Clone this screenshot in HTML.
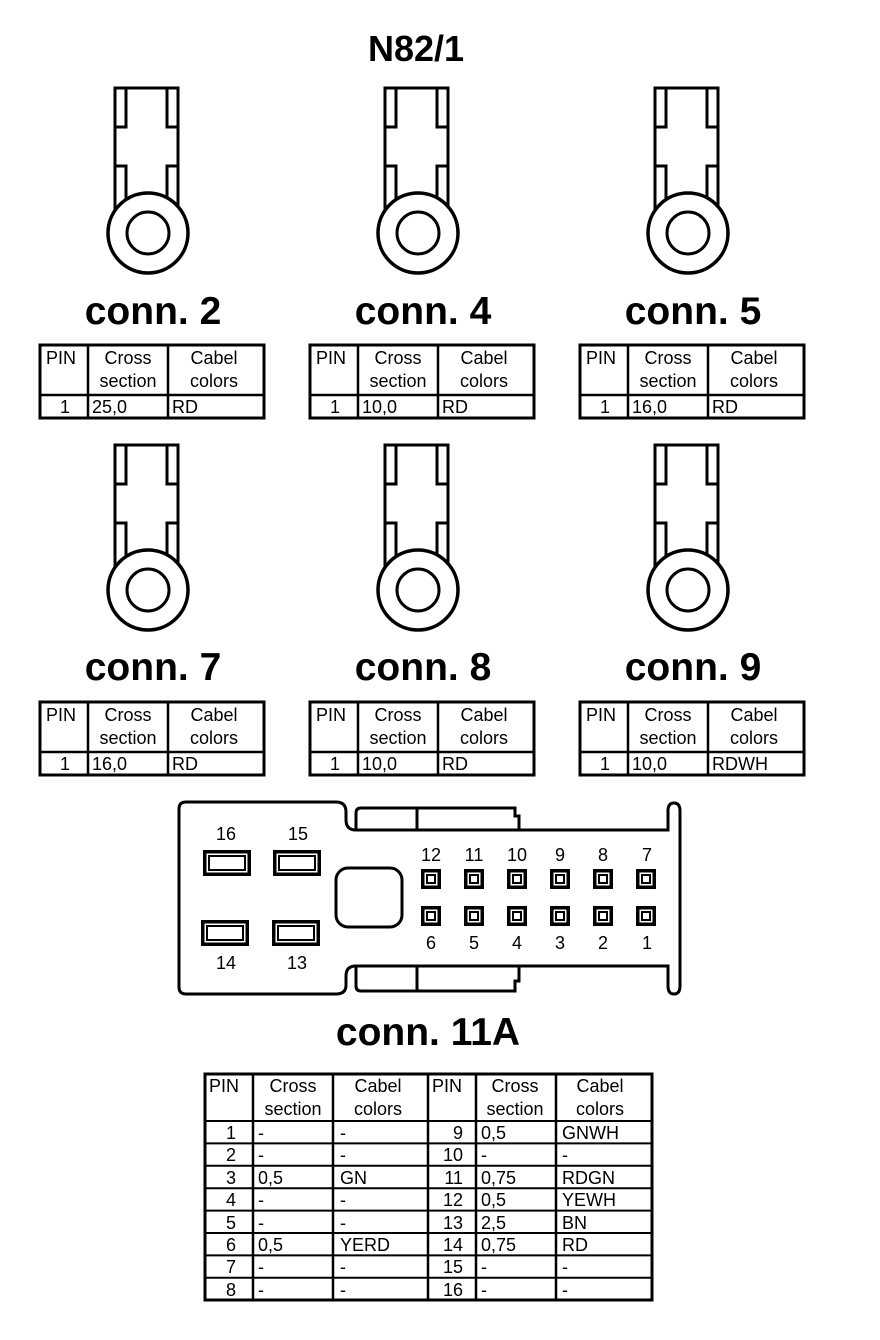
<!DOCTYPE html>
<html><head><meta charset="utf-8"><style>
html,body{margin:0;padding:0;background:#fff}
svg{display:block}
text{font-family:"Liberation Sans",Arial,sans-serif;fill:#000}
</style></head><body>
<svg width="880" height="1340" viewBox="0 0 880 1340" xmlns="http://www.w3.org/2000/svg">
<defs>
<g id="term" fill="none" stroke="#000" stroke-width="3">
<rect x="115" y="88" width="63" height="120" fill="#fff"/>
<path d="M126 88V127H115M167 88V127H178M115 166H126V205M178 166H167V205"/>
<circle cx="148" cy="233" r="40" fill="#fff" stroke-width="3.5"/>
<circle cx="148" cy="233" r="21"/>
</g>
<g id="tbl" fill="none" stroke="#000">
<rect x="40" y="345" width="224" height="73" stroke-width="3"/>
<path d="M40 395H264M88 345V418M168 345V418" stroke-width="2.5"/>
</g>
<g id="sq">
<rect x="-10" y="-10" width="20" height="20" fill="#000"/>
<rect x="-7" y="-7" width="14" height="14" fill="#fff" stroke="#000" stroke-width="1"/>
<rect x="-4" y="-4" width="8" height="8" fill="#fff" stroke="#000" stroke-width="2"/>
</g>
<g id="big">
<rect x="0" y="0" width="48" height="26" fill="#000"/>
<rect x="3" y="3" width="42" height="20" fill="#fff" stroke="#000" stroke-width="1"/>
<rect x="6" y="6" width="36" height="14" fill="#fff" stroke="#000" stroke-width="2"/>
</g>
</defs>

<text x="416" y="61" font-size="36" font-weight="bold" text-anchor="middle">N82/1</text>

<use href="#term"/>
<use href="#term" transform="translate(270,0)"/>
<use href="#term" transform="translate(540,0)"/>
<use href="#term" transform="translate(0,357)"/>
<use href="#term" transform="translate(270,357)"/>
<use href="#term" transform="translate(540,357)"/>

<g font-size="39" font-weight="bold" text-anchor="middle">
<text x="153" y="324">conn. 2</text>
<text x="423" y="324">conn. 4</text>
<text x="693" y="324">conn. 5</text>
<text x="153" y="680">conn. 7</text>
<text x="423" y="680">conn. 8</text>
<text x="693" y="680">conn. 9</text>
<text x="428" y="1045">conn. 11A</text>
</g>

<use href="#tbl"/>
<use href="#tbl" transform="translate(270,0)"/>
<use href="#tbl" transform="translate(540,0)"/>
<use href="#tbl" transform="translate(0,357)"/>
<use href="#tbl" transform="translate(270,357)"/>
<use href="#tbl" transform="translate(540,357)"/>

<g font-size="18">
<g id="hdr">
<text x="46" y="364">PIN</text>
<text x="128" y="364" text-anchor="middle">Cross</text>
<text x="128" y="387" text-anchor="middle">section</text>
<text x="214" y="364" text-anchor="middle">Cabel</text>
<text x="214" y="387" text-anchor="middle">colors</text>
</g>
<use href="#hdr" transform="translate(270,0)"/>
<use href="#hdr" transform="translate(540,0)"/>
<use href="#hdr" transform="translate(0,357)"/>
<use href="#hdr" transform="translate(270,357)"/>
<use href="#hdr" transform="translate(540,357)"/>
<text x="60" y="413">1</text><text x="92" y="413">25,0</text><text x="172" y="413">RD</text>
<text x="330" y="413">1</text><text x="362" y="413">10,0</text><text x="442" y="413">RD</text>
<text x="600" y="413">1</text><text x="632" y="413">16,0</text><text x="712" y="413">RD</text>
<text x="60" y="770">1</text><text x="92" y="770">16,0</text><text x="172" y="770">RD</text>
<text x="330" y="770">1</text><text x="362" y="770">10,0</text><text x="442" y="770">RD</text>
<text x="600" y="770">1</text><text x="632" y="770">10,0</text><text x="712" y="770">RDWH</text>
</g>

<!-- connector 11A -->
<g fill="none" stroke="#000" stroke-width="3">
<path d="M186 802H336Q346 802 346 812V820Q346 830 356 830H668V811Q668 803 674 803Q680 803 680 811V986Q680 994 674 994Q668 994 668 986V966H356Q346 966 346 976V985Q346 994 336 994H186Q179 994 179 987V809Q179 802 186 802Z"/>
<path d="M356 830V813Q356 808 361 808H515V816H519V830"/>
<path d="M417 808V830"/>
<path d="M356 966V986Q356 991 361 991H515V981H519V966"/>
<path d="M417 966V991"/>
<rect x="336" y="868" width="66" height="59" rx="12"/>
</g>
<use href="#big" transform="translate(203,850)"/>
<use href="#big" transform="translate(273,850)"/>
<use href="#big" transform="translate(201,920)"/>
<use href="#big" transform="translate(272,920)"/>
<g>
<use href="#sq" x="431" y="879"/><use href="#sq" x="474" y="879"/><use href="#sq" x="517" y="879"/>
<use href="#sq" x="560" y="879"/><use href="#sq" x="603" y="879"/><use href="#sq" x="646" y="879"/>
<use href="#sq" x="431" y="916"/><use href="#sq" x="474" y="916"/><use href="#sq" x="517" y="916"/>
<use href="#sq" x="560" y="916"/><use href="#sq" x="603" y="916"/><use href="#sq" x="646" y="916"/>
</g>
<g font-size="18" text-anchor="middle">
<text x="226" y="840">16</text><text x="298" y="840">15</text>
<text x="226" y="969">14</text><text x="297" y="969">13</text>
<text x="431" y="861">12</text><text x="474" y="861">11</text><text x="517" y="861">10</text>
<text x="560" y="861">9</text><text x="603" y="861">8</text><text x="647" y="861">7</text>
<text x="431" y="949">6</text><text x="474" y="949">5</text><text x="517" y="949">4</text>
<text x="560" y="949">3</text><text x="603" y="949">2</text><text x="647" y="949">1</text>
</g>

<!-- big table -->
<g fill="none" stroke="#000">
<rect x="205" y="1074" width="447" height="226" stroke-width="3"/>
<path d="M253 1074V1300M333 1074V1300M428 1074V1300M476 1074V1300M556 1074V1300" stroke-width="2.5"/>
<path d="M205 1121H652M205 1143.4H652M205 1165.8H652M205 1188.2H652M205 1210.6H652M205 1233H652M205 1255.4H652M205 1277.8H652" stroke-width="2"/>
</g>
<g font-size="18">
<text x="209" y="1092">PIN</text>
<text x="293" y="1092" text-anchor="middle">Cross</text>
<text x="293" y="1115" text-anchor="middle">section</text>
<text x="378" y="1092" text-anchor="middle">Cabel</text>
<text x="378" y="1115" text-anchor="middle">colors</text>
<text x="432" y="1092">PIN</text>
<text x="515" y="1092" text-anchor="middle">Cross</text>
<text x="515" y="1115" text-anchor="middle">section</text>
<text x="600" y="1092" text-anchor="middle">Cabel</text>
<text x="600" y="1115" text-anchor="middle">colors</text>
<g text-anchor="end">
<text x="236" y="1139">1</text><text x="236" y="1161">2</text><text x="236" y="1184">3</text><text x="236" y="1206">4</text>
<text x="236" y="1229">5</text><text x="236" y="1251">6</text><text x="236" y="1273">7</text><text x="236" y="1296">8</text>
<text x="463" y="1139">9</text><text x="463" y="1161">10</text><text x="463" y="1184">11</text><text x="463" y="1206">12</text>
<text x="463" y="1229">13</text><text x="463" y="1251">14</text><text x="463" y="1273">15</text><text x="463" y="1296">16</text>
</g>
<text x="258" y="1139">-</text><text x="340" y="1139">-</text><text x="481" y="1139">0,5</text><text x="562" y="1139">GNWH</text>
<text x="258" y="1161">-</text><text x="340" y="1161">-</text><text x="481" y="1161">-</text><text x="562" y="1161">-</text>
<text x="258" y="1184">0,5</text><text x="340" y="1184">GN</text><text x="481" y="1184">0,75</text><text x="562" y="1184">RDGN</text>
<text x="258" y="1206">-</text><text x="340" y="1206">-</text><text x="481" y="1206">0,5</text><text x="562" y="1206">YEWH</text>
<text x="258" y="1229">-</text><text x="340" y="1229">-</text><text x="481" y="1229">2,5</text><text x="562" y="1229">BN</text>
<text x="258" y="1251">0,5</text><text x="340" y="1251">YERD</text><text x="481" y="1251">0,75</text><text x="562" y="1251">RD</text>
<text x="258" y="1273">-</text><text x="340" y="1273">-</text><text x="481" y="1273">-</text><text x="562" y="1273">-</text>
<text x="258" y="1296">-</text><text x="340" y="1296">-</text><text x="481" y="1296">-</text><text x="562" y="1296">-</text>
</g>
</svg>
</body></html>
